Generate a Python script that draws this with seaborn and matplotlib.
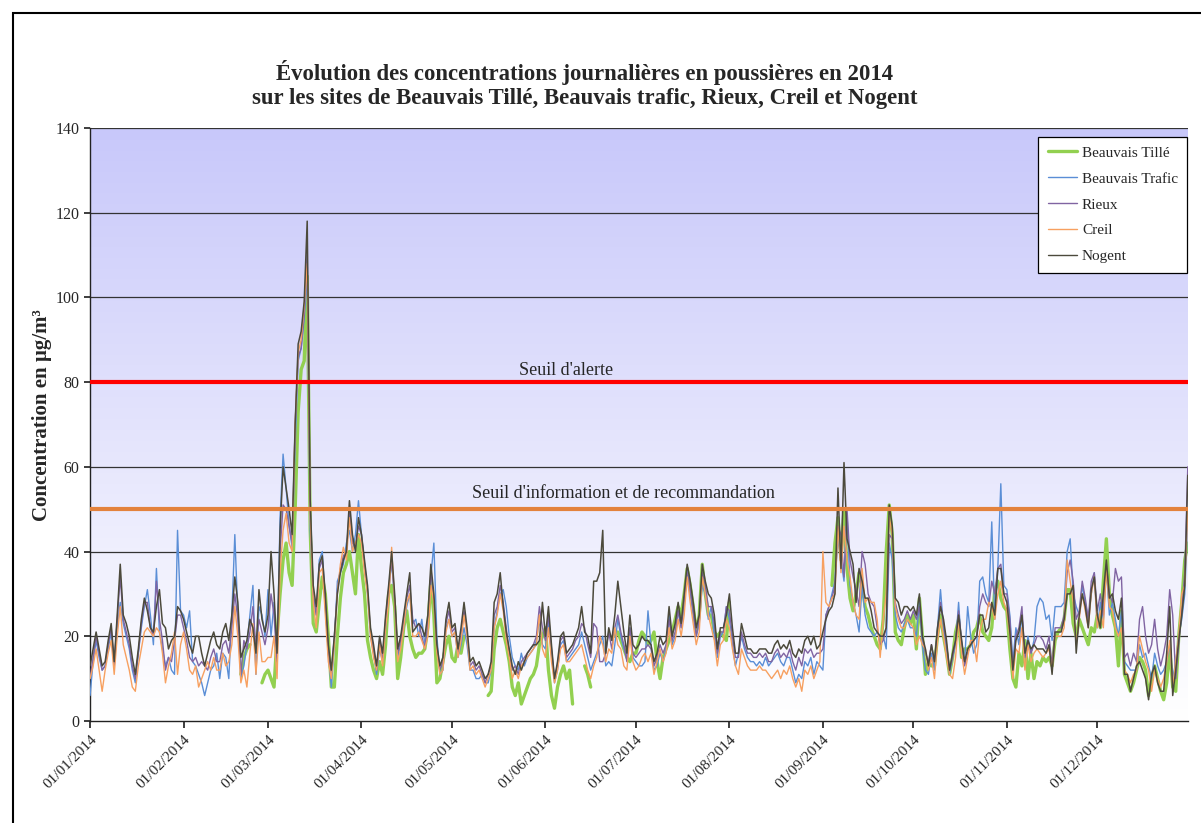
import numpy as np
import pandas as pd
import matplotlib
matplotlib.use("Agg")
import matplotlib.pyplot as plt
import matplotlib.dates as mdates
from matplotlib.colors import LinearSegmentedColormap
from matplotlib.lines import Line2D
from matplotlib.patches import Rectangle
import seaborn as sns

nan = np.nan

dates = pd.date_range("2014-01-01", "2014-12-31", freq="D")

nogent = [
    13,17,21,17,13,14,19,23,14,25,37,25,23,20,15,11,17,24,29,26,22,21,27,31,23,22,17,19,20,27,26,
    24,21,18,16,20,20,16,13,16,19,21,18,17,21,23,19,25,34,28,15,17,19,24,22,16,31,24,21,
    25,40,30,16,45,60,55,50,44,70,89,92,99,118,52,32,27,37,39,30,18,12,20,30,35,38,40,52,44,40,48,
    44,38,32,22,18,13,20,16,25,32,40,30,17,20,25,30,35,21,22,23,22,20,25,37,30,18,13,15,24,28,
    22,23,17,22,28,22,14,15,13,14,12,10,11,14,28,30,35,27,21,17,13,11,14,12,14,16,17,18,18,19,28,
    20,27,18,10,14,20,21,16,17,18,20,22,27,21,20,16,33,33,35,45,16,22,19,25,33,27,21,16,25,18,
    17,18,20,19,19,18,14,16,20,18,19,27,20,23,28,23,30,37,33,28,22,25,37,33,30,29,25,17,22,22,25,
    30,22,16,16,23,20,17,17,16,16,17,17,17,16,16,18,19,17,18,17,19,16,15,17,16,19,20,18,20,17,18,
    21,24,26,27,30,55,36,61,43,40,37,28,36,33,29,29,26,22,21,20,20,22,51,46,29,28,25,27,27,26,
    27,25,30,20,17,13,18,14,22,27,24,19,12,16,19,25,19,14,17,18,19,20,25,25,21,22,28,25,36,36,30,
    28,21,12,19,21,25,16,19,17,18,17,17,17,16,18,11,21,21,21,24,30,30,32,16,25,30,27,22,31,34,
    25,22,30,38,29,30,26,24,29,11,11,7,10,13,14,12,10,5,11,13,9,7,7,16,27,6,12,19,25,32,58,
]

beauvais_trafic = [
    6,14,19,15,12,13,17,21,13,22,28,23,20,17,12,9,16,22,27,31,25,18,36,21,17,13,15,12,11,45,26,
    25,22,26,14,13,11,9,6,9,12,13,16,10,16,15,10,25,44,25,10,13,18,25,32,11,27,25,20,
    31,20,28,15,48,63,55,46,41,65,85,88,95,105,45,30,25,38,40,28,16,8,18,33,35,37,42,45,40,44,52,
    44,36,30,20,16,11,17,14,22,30,38,28,15,18,22,27,30,23,24,20,24,18,22,34,42,20,11,12,22,24,
    20,21,15,18,22,18,12,12,10,10,11,9,9,12,22,26,30,31,27,20,15,13,12,16,13,15,16,17,19,24,18,
    17,24,16,9,12,18,19,14,15,16,17,18,21,18,15,12,14,16,18,20,13,14,13,18,24,20,17,15,22,15,
    14,13,13,14,26,18,12,13,16,14,17,25,18,20,26,22,27,36,30,25,20,23,32,30,24,27,20,15,20,21,27,
    24,18,13,16,20,17,15,14,14,13,14,13,15,13,14,15,16,14,13,15,15,12,9,11,10,14,13,15,11,14,13,
    12,25,27,30,33,43,38,33,49,32,28,25,21,32,25,22,21,20,21,20,20,17,42,38,25,22,21,23,24,22,
    22,20,28,18,12,11,16,12,22,31,22,17,11,15,18,28,17,14,27,20,16,18,33,34,30,28,47,24,36,56,32,
    31,25,14,22,18,25,15,20,16,19,27,29,28,24,25,19,27,27,27,28,40,43,30,27,25,32,28,24,30,35,
    22,28,24,36,25,28,24,20,26,14,13,12,12,12,18,15,16,13,10,16,13,11,12,14,18,10,14,20,24,30,48,
]

rieux = [
    10,15,20,16,12,13,18,22,13,24,34,24,21,18,13,10,16,23,28,28,22,20,33,24,19,12,15,14,19,25,25,
    22,19,15,14,15,13,14,13,12,15,17,14,14,18,19,16,22,30,24,11,19,17,21,27,17,24,21,18,
    22,30,25,14,40,51,50,46,42,70,86,88,96,110,50,30,25,36,38,28,16,11,20,31,36,39,40,50,42,41,46,
    44,37,31,21,17,12,19,15,24,31,38,29,16,19,24,29,32,24,22,23,20,17,23,35,29,17,12,14,23,26,
    21,22,16,20,26,21,13,14,12,13,11,9,11,13,25,27,32,28,22,16,12,13,11,14,15,16,17,18,20,27,22,
    19,25,17,10,13,19,20,15,16,17,19,20,23,22,18,15,23,22,14,14,16,21,17,22,25,21,18,14,22,16,
    15,16,17,17,18,17,13,15,18,16,18,24,19,21,26,22,28,35,31,26,20,24,35,32,27,27,23,16,21,21,27,
    26,20,15,15,21,18,16,16,15,15,16,15,16,14,14,16,17,15,16,15,17,14,12,15,13,17,16,17,15,16,16,
    17,25,27,29,32,46,44,34,50,38,34,31,27,40,37,30,28,27,22,18,19,22,44,43,28,25,23,24,26,24,
    26,24,27,20,16,14,18,14,21,28,23,18,12,15,19,26,19,13,16,18,19,20,27,30,28,27,33,30,36,37,30,
    30,24,12,20,22,27,15,19,16,18,20,20,19,17,20,13,22,22,22,25,35,38,33,24,26,33,29,24,33,35,
    26,30,25,37,30,28,36,33,34,15,16,13,16,14,24,27,20,16,18,24,17,13,16,20,31,25,10,18,26,35,60,
]

creil = [
    10,13,17,12,7,12,16,19,11,20,27,18,15,12,8,7,13,17,21,22,21,20,22,21,16,9,13,16,21,11,18,
    21,17,12,11,13,8,10,12,14,12,15,12,12,16,13,14,18,27,20,9,12,8,16,23,11,21,14,14,
    15,15,20,10,35,45,49,42,40,70,87,90,98,108,48,28,22,35,36,25,14,10,18,30,37,41,38,48,40,42,44,
    42,35,30,20,15,12,18,13,22,28,41,28,14,17,22,28,30,20,20,21,19,17,20,32,28,16,11,12,21,24,
    20,21,15,19,25,20,12,13,11,12,10,8,10,12,22,25,30,26,19,15,10,12,10,13,14,15,16,17,18,25,17,
    15,22,14,9,12,17,18,14,14,15,16,17,18,15,12,10,13,15,20,18,14,17,16,22,18,17,13,12,20,14,
    12,13,15,16,14,16,11,14,17,14,16,22,17,19,24,20,25,34,28,23,18,21,34,30,25,22,19,13,18,19,24,
    22,17,13,11,17,15,13,12,12,12,13,12,12,11,10,11,12,10,12,11,13,10,8,10,7,12,11,13,10,12,14,
    40,28,27,29,30,46,35,46,38,34,28,25,24,36,28,29,28,28,24,15,24,30,48,44,27,24,22,22,24,23,
    22,18,20,18,17,12,15,10,19,24,20,15,11,10,15,24,16,11,15,19,19,14,21,24,24,28,27,24,30,33,28,
    26,20,10,17,16,22,12,18,14,16,17,16,15,16,17,12,20,20,20,22,38,33,28,18,24,30,26,22,30,34,
    22,26,22,36,27,26,22,20,22,12,11,9,11,12,20,17,14,12,7,12,10,8,10,14,19,8,14,20,30,32,50,
]

beauvais_tille = [
    nan,nan,nan,nan,nan,nan,nan,nan,nan,nan,nan,nan,nan,nan,nan,nan,nan,nan,nan,nan,nan,nan,nan,nan,nan,nan,nan,nan,nan,nan,nan,
    nan,nan,nan,nan,nan,nan,nan,nan,nan,nan,nan,nan,nan,nan,nan,nan,nan,nan,nan,11,15,17,18,nan,nan,nan,9,11,
    12,10,8,20,30,38,42,35,32,50,73,83,85,105,45,23,21,28,34,30,20,8,8,20,29,35,37,40,35,30,44,
    36,30,19,15,12,10,14,11,18,30,32,27,10,15,22,26,20,17,15,16,16,17,22,33,25,9,10,14,18,20,
    15,14,18,16,20,nan,nan,nan,nan,nan,nan,nan,6,7,17,22,24,21,18,14,8,6,9,4,6,8,10,11,13,18,20,
    22,12,6,3,8,11,13,10,12,4,nan,nan,nan,13,11,8,nan,nan,nan,nan,nan,nan,nan,20,21,19,17,15,14,16,
    16,19,21,20,18,19,21,14,10,15,17,19,21,24,27,25,30,36,32,27,21,25,37,30,25,25,21,20,21,20,19,
    28,nan,nan,nan,nan,nan,nan,nan,nan,nan,nan,nan,nan,nan,nan,nan,nan,nan,nan,nan,nan,nan,nan,nan,nan,nan,nan,nan,nan,nan,nan,
    nan,nan,nan,32,42,48,38,50,36,29,26,30,35,32,27,25,22,20,18,17,24,40,51,44,21,19,18,22,25,23,
    25,17,29,20,11,14,13,13,20,25,20,16,11,15,21,24,15,17,17,18,21,22,25,21,20,19,22,31,33,29,27,
    26,17,10,8,16,13,19,10,16,10,14,13,15,14,15,13,19,21,22,24,31,31,23,20,24,22,20,18,22,21,
    25,22,33,43,30,25,22,13,26,11,9,7,9,12,15,14,12,6,10,13,10,7,5,9,17,8,7,20,28,38,42,
]

series_names = ["Beauvais Tillé", "Beauvais Trafic", "Rieux", "Creil", "Nogent"]
series_values = [beauvais_tille, beauvais_trafic, rieux, creil, nogent]
series_colors = ["#92d050", "#5a8ed6", "#8064a2", "#f7a060", "#4c4a3c"]
series_widths = [2.4, 1.0, 1.0, 1.0, 1.1]

seuil_alerte = 80
seuil_info = 50
title_lines = ["Évolution des concentrations journalières en poussières en 2014",
               "sur les sites de Beauvais Tillé, Beauvais trafic, Rieux, Creil et Nogent"]

sns.set_theme(style="white")
plt.rcParams["font.family"] = ["Liberation Serif", "DejaVu Serif"]

fig = plt.figure(figsize=(12.01, 8.23), dpi=100)
ax = fig.add_axes([0.075, 0.124, 0.914, 0.7205])

# background gradient
x0 = mdates.date2num(dates[0])
x1 = mdates.date2num(dates[-1])
cmap = LinearSegmentedColormap.from_list("bg", ["#ffffff", "#c8c8fa"])
grad = np.linspace(0, 1, 256).reshape(-1, 1)
ax.imshow(grad, extent=[x0, x1, 0, 140], origin="lower", aspect="auto",
          cmap=cmap, zorder=0)

for yv in range(20, 141, 20):
    ax.axhline(yv, color="#333333", lw=0.9, zorder=1)

for name, vals, col, lw in zip(series_names, series_values, series_colors, series_widths):
    s = pd.Series(np.array(vals, dtype=float), index=dates)
    valid = s.notna()
    grp = (valid != valid.shift()).cumsum()
    for _, seg in s[valid].groupby(grp[valid]):
        df = pd.DataFrame({"date": seg.index, "val": seg.values})
        sns.lineplot(data=df, x="date", y="val", ax=ax, color=col, lw=lw,
                     estimator=None, legend=False, zorder=3)

ax.axhline(seuil_alerte, color="#ff0000", lw=3, zorder=4)
ax.axhline(seuil_info, color="#e3823c", lw=3, zorder=4)
ax.text(mdates.date2num(pd.Timestamp("2014-06-08")), seuil_alerte + 2.8, "Seuil d'alerte",
        ha="center", va="center", fontsize=13, zorder=5)
ax.text(mdates.date2num(pd.Timestamp("2014-06-27")), seuil_info + 3.7,
        "Seuil d'information et de recommandation",
        ha="center", va="center", fontsize=13, zorder=5)

ax.set_xlim(x0, x1)
ax.set_ylim(0, 140)
ax.set_yticks(range(0, 141, 20))
ax.tick_params(axis="y", labelsize=11.5, length=4, direction="out", left=True)
month_starts = pd.date_range("2014-01-01", "2014-12-01", freq="MS")
ax.set_xticks(mdates.date2num(month_starts))
ax.set_xticklabels([d.strftime("%d/%m/%Y") for d in month_starts], rotation=45,
                   ha="right", rotation_mode="anchor", fontsize=11)
ax.tick_params(axis="x", length=5, direction="out", bottom=True)
ax.set_xlabel("")
ax.set_ylabel("Concentration en µg/m³", fontsize=15, fontweight="bold")
ax.yaxis.set_label_coords(-0.035, 0.515)

for side in ["left", "bottom"]:
    ax.spines[side].set_visible(True)
    ax.spines[side].set_color("#222222")
    ax.spines[side].set_linewidth(1.0)
ax.spines["top"].set_visible(False)
ax.spines["right"].set_visible(False)

fig.text(0.487, 0.912, title_lines[0], ha="center", va="center", fontsize=16.4, fontweight="bold")
fig.text(0.487, 0.880, title_lines[1], ha="center", va="center", fontsize=16.4, fontweight="bold")

handles = [Line2D([0], [0], color=c, lw=w if w > 2 else 1.0) for c, w in zip(series_colors, series_widths)]
leg = ax.legend(handles, series_names, loc="upper right", bbox_to_anchor=(0.9995, 0.985),
                fontsize=11, frameon=True, fancybox=False, framealpha=1,
                edgecolor="#000000", labelspacing=0.8, handlelength=1.9,
                borderpad=0.6, handletextpad=0.35, borderaxespad=0.0)
leg.get_frame().set_linewidth(0.9)
leg.set_zorder(10)

fig.patches.append(Rectangle((0.0105, -0.05), 1.2, 1.034, transform=fig.transFigure,
                             fill=False, edgecolor="black", lw=1.5, clip_on=False))

fig.savefig("out.png", dpi=100)
